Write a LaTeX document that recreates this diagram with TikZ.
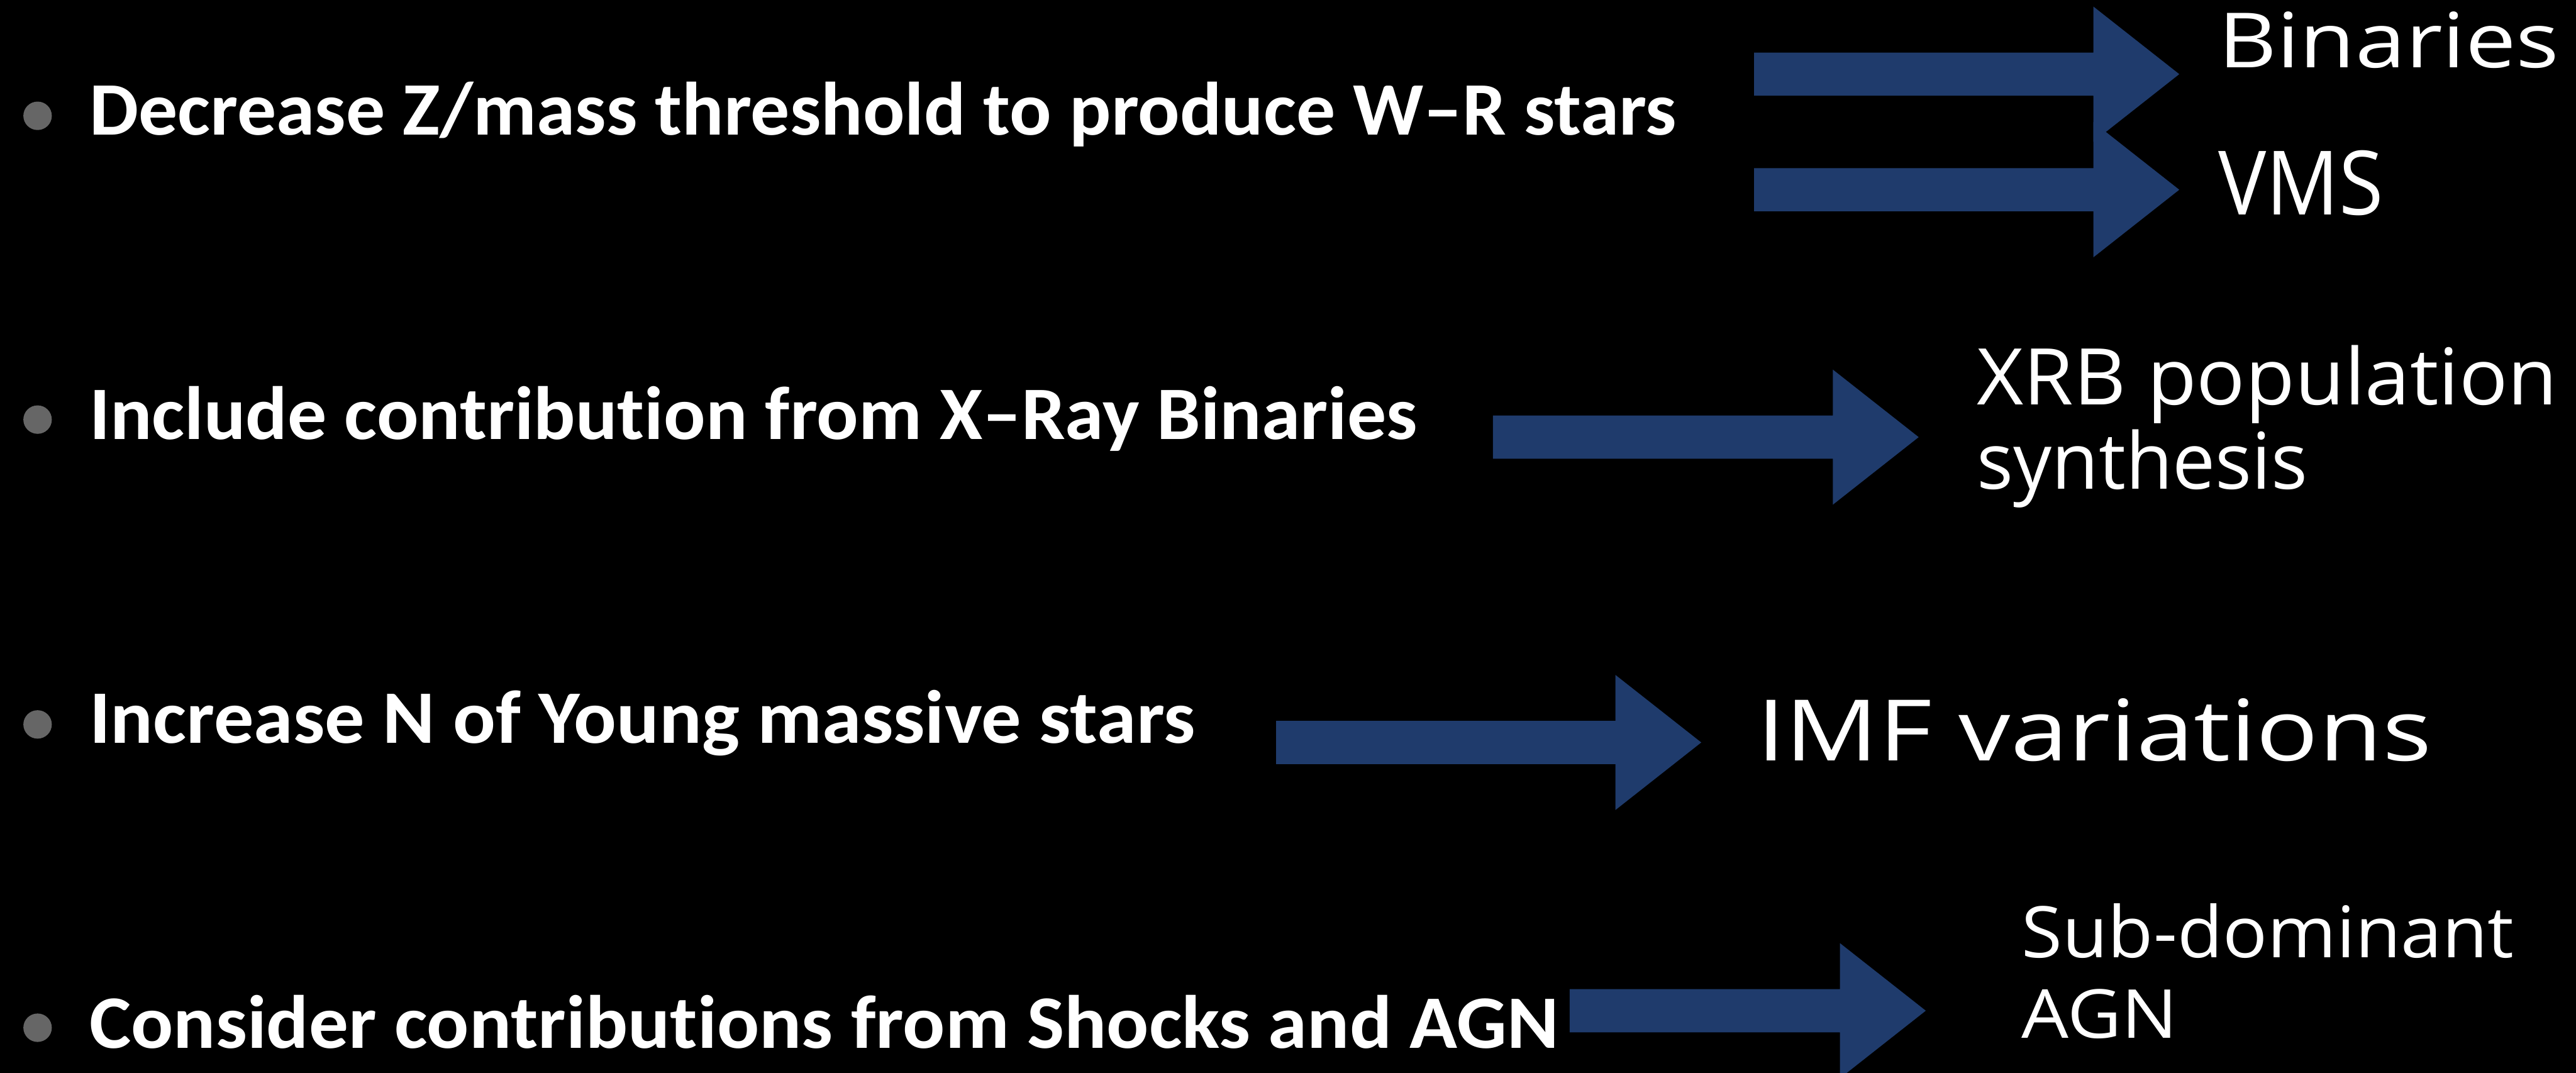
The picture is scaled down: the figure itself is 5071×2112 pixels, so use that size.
\documentclass[tikz,border=0pt]{standalone}
\usepackage{fontspec}
\setmainfont{Carlito}[RawFeature={-liga;-dlig;-calt}]
\newfontfamily\handfont{Open Sans}
\usepackage{graphicx}
\definecolor{arrowblue}{RGB}{31,59,108}
\definecolor{bulletgray}{RGB}{102,102,102}
\newcommand{\hfit}[2]{\resizebox{#1}{\height}{#2}}
\newcommand{\blockarr}[4]{% start x, head base x, tip x, centre y
  \fill[blockarrow] (#1,#4-42.5) -- (#2,#4-42.5) -- (#2,#4-133) -- (#3,#4)
    -- (#2,#4+133) -- (#2,#4+42.5) -- (#1,#4+42.5) -- cycle;}
\tikzset{
  bullettext/.style={anchor=base west, inner sep=0pt, text=white,
    font=\bfseries\fontsize{14.87}{16}\selectfont},
  handtext/.style={anchor=base west, inner sep=0pt, text=white},
  bulletdot/.style={fill=bulletgray, draw=none},
  blockarrow/.style={fill=arrowblue, draw=none}
}
\begin{document}
\begin{tikzpicture}[x=0.1pt,y=-0.1pt]
\fill[black] (0,0) rectangle (5071,2112);
\useasboundingbox (0,0) rectangle (5071,2112);
\clip (0,0) rectangle (5071,2112);

% bullets
\fill[bulletdot] (74,228) circle (28);
\fill[bulletdot] (74,826) circle (28);
\fill[bulletdot] (74,1426) circle (28);
\fill[bulletdot] (74,2023) circle (28);

% bullet texts
\node[bullettext] (t1) at (174,265) {\hfit{312.5pt}{Decrease Z/mass threshold to produce W\textendash R stars}};
\node[bullettext] (t2) at (174,865) {\hfit{261.4pt}{Include contribution from X\textendash Ray Binaries}};
\node[bullettext] (t3) at (174,1463) {\hfit{217.7pt}{Increase N of Young massive stars}};
\node[bullettext] (t4) at (174,2063) {\hfit{289.2pt}{Consider contributions from Shocks and AGN}};

% block arrows
\blockarr{3453}{4121}{4290}{146}
\blockarr{3453}{4121}{4290}{373.5}
\blockarr{2939}{3608}{3777}{860.5}
\blockarr{2512}{3180}{3349}{1461.5}
\blockarr{3090}{3622}{3791}{1989.5}

% handwritten labels
\node[handtext, font=\handfont\fontsize{15}{16}\selectfont] (h1) at (4365,133) {\hfit{67.1pt}{Binaries}};
\node[handtext, font=\handfont\fontsize{17.5}{18}\selectfont] (h2) at (4365,423) {\hfit{32.5pt}{VMS}};
\node[handtext, font=\handfont\fontsize{15.4}{16}\selectfont] (h3) at (3890,797) {\hfit{114.3pt}{XRB population}};
\node[handtext, font=\handfont\fontsize{15.4}{16}\selectfont] (h3b) at (3890,963) {\hfit{65.1pt}{synthesis}};
\node[handtext, font=\handfont\fontsize{16.7}{17}\selectfont] (h4) at (3456,1497) {\hfit{132.9pt}{IMF variations}};
\node[handtext, font=\handfont\fontsize{14}{15}\selectfont] (h5) at (3978,1885) {\hfit{96.9pt}{Sub-dominant}};
\node[handtext, font=\handfont\fontsize{13.3}{14}\selectfont] (h5b) at (3978,2043) {\hfit{30.7pt}{AGN}};
\end{tikzpicture}
\end{document}
